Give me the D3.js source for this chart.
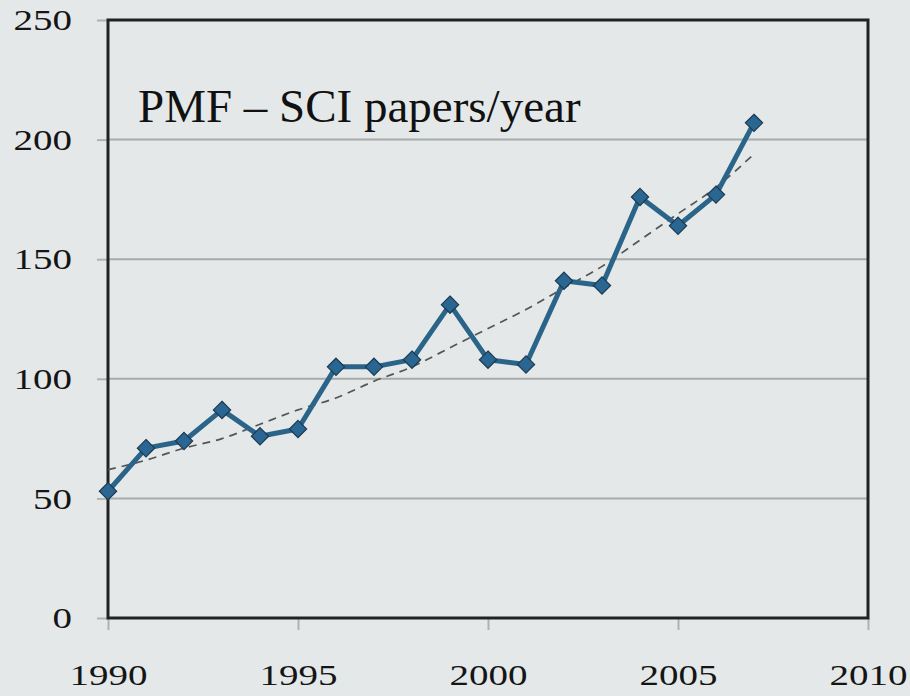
<!DOCTYPE html>
<html>
<head>
<meta charset="utf-8">
<script src="https://cdn.jsdelivr.net/npm/d3@7"></script>
<style>
  body { margin: 0; background: #e4e8e8; }
  svg { display: block; }
</style>
</head>
<body>
<svg id="mainsvg" width="910" height="696"></svg>
<script>
// papers per year
const years = [1990,1991,1992,1993,1994,1995,1996,1997,1998,1999,2000,2001,2002,2003,2004,2005,2006,2007]
const papers = [53,71,74,87,76,79,105,105,108,131,108,106,141,139,176,164,177,207]
// dashed trend line
const trend = [62,66,71,75,81,87,92,99,105,113,121,129,138,147,158,169,180,194]
const xTicks = [1990,1995,2000,2005,2010]
const yTicks = [0,50,100,150,200,250]
const title = 'PMF \u2013 SCI papers/year'

let margin = {left: 108, top: 20, right: 42, bottom: 78}
let width = 910, height = 696
let fontFam = "'Liberation Serif', 'DejaVu Serif', serif"
let digitW = 19.5   // the old-style figures in the picture are wide

const svg = d3.select('#mainsvg')
const x = d3.scaleLinear().domain([1990, 2010]).range([margin.left, width - margin.right])
const y = d3.scaleLinear().domain([0, 250]).range([height - margin.bottom, margin.top])

// gridlines
svg.append('g')
  .selectAll('line')
  .data(yTicks.filter(d => d > 0 && d < 250))
  .join('line')
  .attr('x1', x(1990)).attr('x2', x(2010))
  .attr('y1', d => y(d)).attr('y2', d => y(d))
  .attr('stroke', '#a9abab').attr('stroke-width', 2)

function styleAxis(g) {
  g.attr('font-family', fontFam).attr('font-size', 30)
  g.select('.domain').remove()
  g.selectAll('.tick line').attr('stroke', '#b0b2b2').attr('stroke-width', 2)
  g.selectAll('.tick text')
    .style('font-family', fontFam).style('font-size', '30px')
    .attr('fill', '#151515')
    .attr('textLength', function() { return this.textContent.length * digitW })
    .attr('lengthAdjust', 'spacingAndGlyphs')
}

// y axis
svg.append('g')
  .attr('transform', `translate(${x(1990)},0)`)
  .call(d3.axisLeft(y).tickValues(yTicks).tickSize(11).tickPadding(25))
  .call(styleAxis)

// x axis
svg.append('g')
  .attr('transform', `translate(0,${y(0)})`)
  .call(d3.axisBottom(x).tickValues(xTicks).tickFormat(d3.format('d')).tickSize(12).tickPadding(34))
  .call(styleAxis)

// frame
svg.append('rect')
  .attr('x', x(1990)).attr('y', y(250))
  .attr('width', x(2010) - x(1990)).attr('height', y(0) - y(250))
  .attr('fill', 'none').attr('stroke', '#222').attr('stroke-width', 3)

// trend
svg.append('path')
  .datum(years.map((d, i) => [d, trend[i]]))
  .attr('d', d3.line().x(d => x(d[0])).y(d => y(d[1])).curve(d3.curveMonotoneX))
  .attr('fill', 'none').attr('stroke', '#555').attr('stroke-width', 1.7)
  .attr('stroke-dasharray', '8,6')

// series
const pts = years.map((d, i) => [d, papers[i]])
svg.append('path')
  .datum(pts)
  .attr('d', d3.line().x(d => x(d[0])).y(d => y(d[1])))
  .attr('fill', 'none').attr('stroke', '#2b6489').attr('stroke-width', 5)
  .attr('stroke-linejoin', 'round')

svg.append('g')
  .selectAll('path')
  .data(pts)
  .join('path')
  .attr('transform', d => `translate(${x(d[0])},${y(d[1])})`)
  .attr('d', d3.symbol().type(d3.symbolDiamond2).size(190))
  .attr('fill', '#2a6692').attr('stroke', '#1c3a50').attr('stroke-width', 1.2)

// title
svg.append('text')
  .attr('x', 138).attr('y', 122)
  .style('font-family', fontFam).style('font-size', '47px').attr('fill', '#111')
  .text(title)
</script>
</body>
</html>
